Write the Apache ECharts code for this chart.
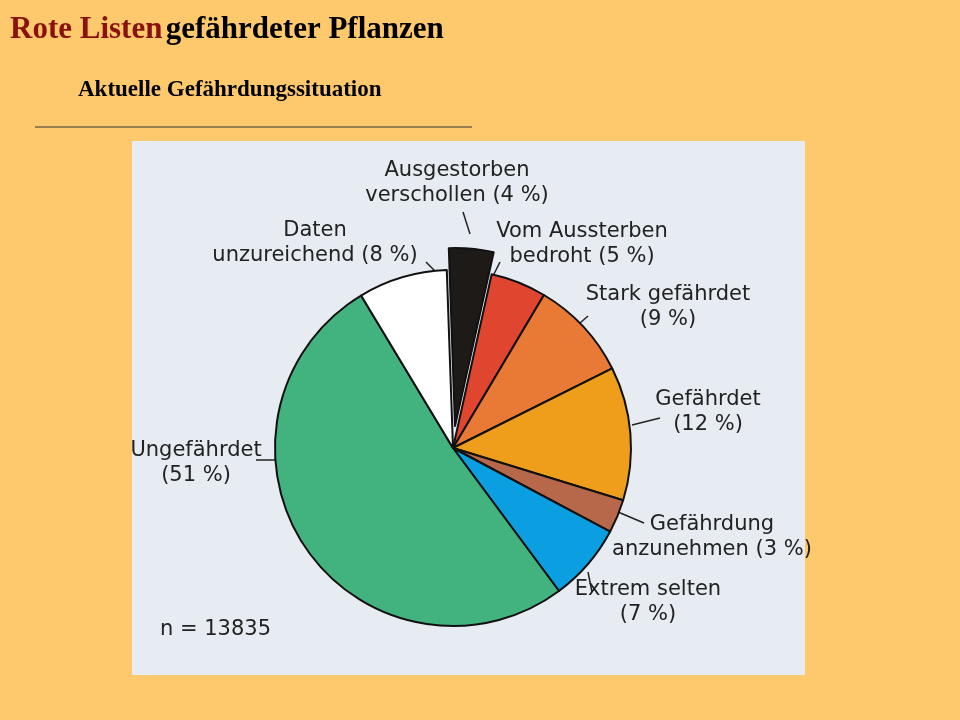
<!DOCTYPE html>
<html>
<head>
<meta charset="utf-8">
<script src="https://cdn.jsdelivr.net/npm/echarts@6/dist/echarts.min.js"></script>
<style>
  body { margin: 0; background: #fdc96c; }
  #chart { width: 960px; height: 720px; }
</style>
</head>
<body>
<div id="chart"></div>
<script>
let categories = [
  "Ausgestorben\nverschollen (4 %)",
  "Vom Aussterben\nbedroht (5 %)",
  "Stark gefährdet\n(9 %)",
  "Gefährdet\n(12 %)",
  "Gefährdung\nanzunehmen (3 %)",
  "Extrem selten\n(7 %)",
  "Ungefährdet\n(51 %)",
  "Daten\nunzureichend (8 %)",
];
let values = [4, 5, 9, 12, 3, 7, 51, 8];
let colors = ["#1e1a17", "#e04530", "#e87a35", "#ee9e1a", "#b8684a", "#0b9ee0", "#42b37e", "#ffffff"];

// label centres and leader lines in the picture (layout only)
let labelPos = [
  [457, 183], [582, 244], [668, 307], [708, 412],
  [712, 537], [648, 602], [196, 463], [315, 243],
];
let leaders = [
  [[463, 212], [470, 234]],
  [[500, 262], [492, 278]],
  [[588, 316], [572, 330]],
  [[660, 418], [632, 425]],
  [[644, 523], [618, 512]],
  [[592, 592], [588, 572]],
  [[256, 460], [276, 460]],
  [[426, 262], [440, 276]],
];

let chart = echarts.init(document.getElementById("chart"));

let graphics = [
  { type: "rect", shape: { x: 132, y: 141, width: 673, height: 534 }, style: { fill: "#e7ecf3" }, z: -10 },
  {
    type: "text", left: 10, top: 14,
    style: {
      rich: {
        r: { fill: "#8b1111", font: "bold 31px 'Liberation Serif'" },
        b: { fill: "#000", font: "bold 31px 'Liberation Serif'" },
      },
      text: "{r|Rote Listen} {b|gefährdeter Pflanzen}",
    },
  },
  { type: "text", left: 78, top: 79, style: { text: "Aktuelle Gefährdungssituation", fill: "#000", font: "bold 23px 'Liberation Serif'" } },
  { type: "line", shape: { x1: 35, y1: 127, x2: 472, y2: 127 }, style: { stroke: "#333", lineWidth: 1 } },
  { type: "text", left: 160, top: 619, style: { text: "n = 13835", fill: "#222", font: "21px 'DejaVu Sans'" } },
];
categories.forEach((c, i) => {
  graphics.push({
    type: "text", x: labelPos[i][0], y: labelPos[i][1],
    style: { text: c, fill: "#222", font: "21px 'DejaVu Sans'", lineHeight: 25, align: "center", verticalAlign: "middle" },
  });
  graphics.push({
    type: "polyline", shape: { points: leaders[i] }, style: { stroke: "#222", lineWidth: 1.5, fill: null },
  });
});

let option = {
  backgroundColor: "#fdc96c",
  graphic: graphics,
  series: [
    {
      type: "pie",
      center: [453, 448],
      radius: 178,
      startAngle: 92,
      clockwise: true,
      selectedMode: "single",
      selectedOffset: 22,
      animation: false,
      itemStyle: { borderColor: "#111", borderWidth: 2 },
      label: { show: false },
      labelLine: { show: false },
      emphasis: { disabled: true },
      data: values.map((v, i) => ({
        name: categories[i],
        value: v,
        selected: i === 0,
        itemStyle: { color: colors[i] },
      })),
    },
  ],
};

chart.setOption(option);
</script>
</body>
</html>
